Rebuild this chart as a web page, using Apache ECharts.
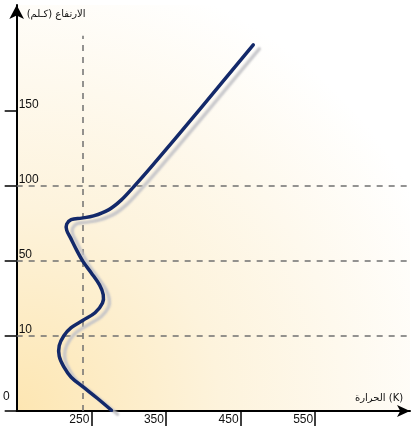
<!DOCTYPE html>
<html>
<head>
<meta charset="utf-8">
<script src="https://cdn.jsdelivr.net/npm/echarts@6/dist/echarts.min.js"></script>
<style>
  html, body { margin: 0; padding: 0; background: #fff; }
  #chart { width: 417px; height: 426px; }
</style>
</head>
<body>
<div id="chart"></div>
<script>
// altitude levels, drawn at equal spacing (index 0..4)
var altLabels = ['0', '10', '50', '100', '150'];
var altLevels = [0, 1, 2, 3, 4];
var gridLevels = [1, 2, 3];
var tempTicks = [250, 350, 450, 550];
var refTemp = 238;

// temperature profile: [K, altitude index]
var profileTemp = [277, 258, 239, 223, 213, 207, 207, 213, 223, 239, 255, 265, 266, 261, 250, 239, 230, 222, 217, 217, 223, 237, 253, 273, 290, 307, 330, 397, 467];
var profileAlt = [0.01, 0.17, 0.32, 0.45, 0.59, 0.73, 0.87, 1.0, 1.11, 1.21, 1.31, 1.44, 1.55, 1.68, 1.84, 1.99, 2.15, 2.31, 2.41, 2.49, 2.55, 2.57, 2.6, 2.68, 2.81, 2.99, 3.25, 4.04, 4.88];

var profile = profileTemp.map(function (t, i) { return [t, profileAlt[i]]; });

var chart = echarts.init(document.getElementById('chart'));
var font = 'Liberation Sans, Arial, sans-serif';

// one smooth path through all profile points (line series clamps its curve at turning points)
function drawProfile(params, api) {
  if (params.dataIndex !== 0) return;
  var pts = profile.map(function (p) { return api.coord(p); });
  return {
    type: 'polyline',
    silent: true,
    shape: { points: pts, smooth: 0.35 },
    style: {
      fill: 'none', stroke: '#13296a', lineWidth: 3.5, lineCap: 'round', lineJoin: 'round',
      shadowColor: 'rgba(195,195,200,0.9)', shadowBlur: 2, shadowOffsetX: 6, shadowOffsetY: 4
    }
  };
}

chart.setOption({
  animation: false,
  grid: {
    left: 15, right: 7, top: 5, bottom: 15,
    show: true,
    borderWidth: 0,
    backgroundColor: {
      type: 'radial', x: 0, y: 1, r: 1.15,
      colorStops: [
        { offset: 0, color: '#fde6b2' },
        { offset: 0.45, color: '#fdf3dc' },
        { offset: 1, color: '#ffffff' }
      ]
    }
  },
  xAxis: {
    type: 'value',
    min: 150,
    max: 677,
    name: 'الحرارة (K)',
    nameLocation: 'end',
    nameGap: -55,
    nameTextStyle: { fontFamily: 'DejaVu Sans', fontSize: 10, color: '#111', verticalAlign: 'bottom', padding: [0, 0, 8, 0] },
    axisLine: { lineStyle: { color: '#000', width: 2 }, symbol: ['none', 'arrow'], symbolSize: [9, 13] },
    axisTick: { show: true, customValues: tempTicks, length: 15, lineStyle: { color: '#000', width: 1.5 } },
    axisLabel: { customValues: tempTicks, align: 'right', margin: 3, padding: [0, 2, 0, 0], fontFamily: font, fontSize: 12, color: '#111' },
    splitLine: { show: false }
  },
  yAxis: [{
    type: 'value',
    min: 0,
    max: 5.41,
    name: 'الارتفاع (كـلم)\u200F',
    nameLocation: 'end',
    nameGap: -14,
    nameTextStyle: { fontFamily: 'DejaVu Sans', fontSize: 10, color: '#111', align: 'left', padding: [0, 0, 0, 10] },
    axisLine: { lineStyle: { color: '#000', width: 2 }, symbol: ['none', 'arrow'], symbolSize: [11, 14] },
    axisTick: { show: true, customValues: altLevels, length: 12, lineStyle: { color: '#000', width: 1.5 } },
    axisLabel: {
      customValues: altLevels.slice(1),
      inside: true,
      margin: 2,
      verticalAlign: 'bottom',
      fontFamily: font, fontSize: 12, color: '#111',
      formatter: function (v) { return altLabels[Math.round(v)]; }
    },
    splitLine: { show: false }
  }, {
    type: 'value',
    position: 'left',
    min: 0,
    max: 5.41,
    axisLine: { show: false },
    axisTick: { show: false },
    axisLabel: {
      customValues: [0],
      margin: 7,
      verticalAlign: 'bottom',
      padding: [0, 0, 8, 0],
      fontFamily: font, fontSize: 12, color: '#111',
      formatter: function (v) { return altLabels[Math.round(v)]; }
    },
    splitLine: { show: false }
  }],
  series: [{
    type: 'line',
    data: [],
    markLine: {
      silent: true,
      symbol: 'none',
      label: { show: false },
      lineStyle: { color: '#707070', type: [6, 6], width: 1.5 },
      data: gridLevels.map(function (v) { return { yAxis: v }; })
        .concat([[{ coord: [refTemp, 0] }, { coord: [refTemp, 5.0] }]])
    }
  }, {
    type: 'custom',
    data: profile,
    encode: { x: 0, y: 1 },
    z: 5,
    renderItem: drawProfile
  }]
});
</script>
</body>
</html>
